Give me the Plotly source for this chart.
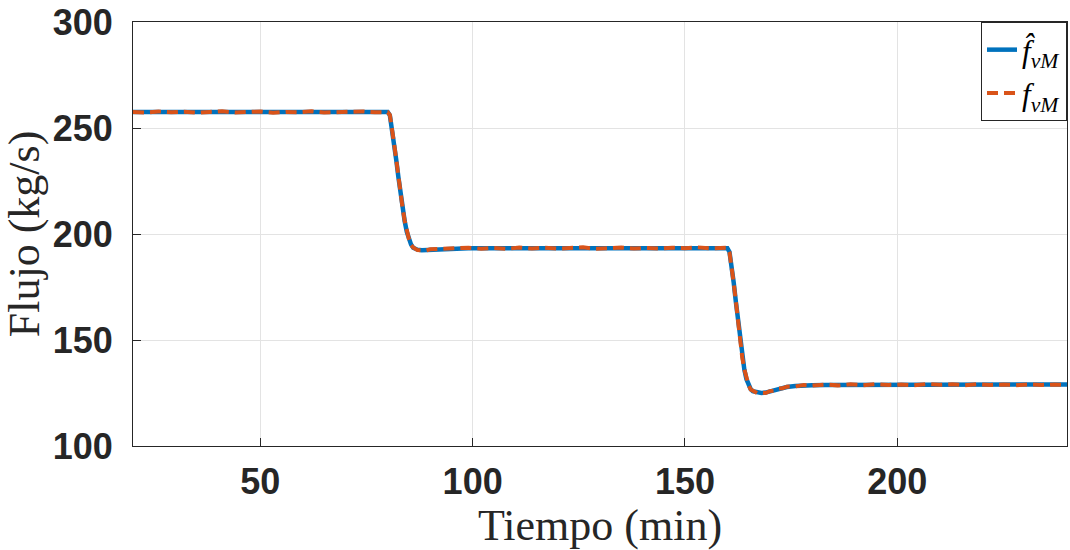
import plotly.graph_objects as go

# Time samples (min), grouped by operating segment
t_high = [20, 23, 26, 29, 32, 35, 38, 41, 44, 47, 50, 53, 56, 59, 62, 65, 68, 71, 74, 77, 79]
t_drop1 = [80, 80.5, 81, 81.5, 82, 82.5, 83, 83.5, 84, 84.5, 85, 85.5, 86, 87, 88, 89, 90, 92, 94, 96]
t_mid = [99, 102, 105, 108, 111, 114, 117, 120, 123, 126, 129, 132, 135, 138, 141, 144, 147, 150, 153, 156, 158, 159]
t_drop2 = [160, 160.5, 161, 161.5, 162, 162.5, 163, 163.5, 164, 164.5, 165, 165.5, 166, 167, 168, 169, 170,
           171, 172, 173, 174, 176, 178, 180]
t_low = [183, 186, 189, 192, 195, 198, 201, 204, 207, 210, 213, 216, 219, 222, 225, 228, 231, 234, 237, 240]

# Estimated flow (kg/s)
est_high = [257.5] * 21
est_drop1 = [257.5, 256.0, 250.0, 243.0, 235.0, 227.0, 219.5, 212.5, 206.0, 201.0, 197.5, 195.0, 193.5,
             192.6, 192.3, 192.4, 192.6, 192.9, 193.1, 193.2]
est_mid = [193.3] * 22
est_drop2 = [193.3, 191.5, 185.0, 177.0, 168.0, 159.0, 150.5, 142.0, 136.0, 131.5, 128.5, 126.8, 125.8,
             125.2, 125.0, 125.2, 125.7, 126.3, 126.9, 127.4, 127.8, 128.3, 128.6, 128.7]
est_low = [128.8, 128.8, 128.8, 128.9, 128.9, 128.9, 128.9, 128.9, 128.9, 129.0, 129.0, 129.0, 129.0,
           129.0, 129.0, 129.0, 129.0, 129.0, 129.0, 129.0]

# Measured flow (kg/s)
meas_high = [257.6, 257.3, 257.8, 257.4, 257.7, 257.2, 257.6, 257.9, 257.3, 257.5, 257.8, 257.2, 257.6,
             257.4, 257.9, 257.3, 257.6, 257.5, 257.8, 257.4, 257.6]
meas_drop1 = [257.4, 256.2, 250.3, 242.6, 235.2, 226.7, 219.8, 212.3, 206.2, 200.8, 197.6, 194.8, 193.6,
              192.4, 192.5, 192.2, 192.8, 193.0, 192.9, 193.4]
meas_mid = [193.5, 193.1, 193.4, 193.0, 193.6, 193.2, 193.5, 193.1, 193.4, 193.7, 193.0, 193.3, 193.6,
            193.2, 193.4, 193.1, 193.5, 193.3, 193.7, 193.2, 193.5, 193.4]
meas_drop2 = [193.5, 191.3, 185.2, 176.8, 168.3, 158.8, 150.7, 141.8, 136.2, 131.3, 128.7, 126.6, 125.9,
              125.0, 125.2, 125.0, 125.9, 126.1, 127.1, 127.2, 128.0, 128.1, 128.8, 128.5]
meas_low = [129.0, 128.6, 129.1, 128.7, 129.2, 128.8, 129.0, 128.6, 129.2, 128.9, 129.1, 128.7, 129.2,
            128.8, 129.0, 128.7, 129.1, 128.8, 129.0, 128.9]

t = t_high + t_drop1 + t_mid + t_drop2 + t_low
est = est_high + est_drop1 + est_mid + est_drop2 + est_low
meas = meas_high + meas_drop1 + meas_mid + meas_drop2 + meas_low

x_ticks = [50, 100, 150, 200]
y_ticks = [100, 150, 200, 250, 300]

fig = go.Figure()
fig.add_trace(go.Scatter(
    x=t, y=est, mode="lines", name="<i>f̂</i><sub><i>vM</i></sub>",
    line=dict(color="#0072BD", width=4.5),
))
fig.add_trace(go.Scatter(
    x=t, y=meas, mode="lines", name="<i>f</i><sub><i>vM</i></sub>",
    line=dict(color="#D95319", width=4, dash="11px,6px"),
))

tick_font = dict(family="Liberation Sans, Arial, sans-serif", size=36, color="#262626", weight="bold")
title_font = dict(family="Liberation Serif, Times New Roman, serif", size=44, color="#262626")

axis_common = dict(
    showline=True, mirror=True, linecolor="#262626", linewidth=1,
    showgrid=True, gridcolor="#e3e3e3", gridwidth=1,
    ticks="inside", ticklen=8, tickcolor="#262626", tickwidth=1,
    tickfont=tick_font, zeroline=False, ticklabeloverflow="allow",
)

fig.update_layout(
    width=1070, height=550,
    margin=dict(l=133, r=2, t=18, b=104),
    paper_bgcolor="white", plot_bgcolor="white",
    showlegend=True,
    legend=dict(
        x=1, y=1, xanchor="right", yanchor="top",
        bgcolor="white", bordercolor="#262626", borderwidth=1,
        font=dict(family="Liberation Serif, Times New Roman, serif", size=31, color="#000000"),
        itemwidth=30, tracegroupgap=0,
    ),
    xaxis=dict(
        range=[20, 240], tickvals=x_ticks, ticklabelstandoff=4,
        title=dict(text="Tiempo (min)", font=title_font, standoff=9),
        **axis_common,
    ),
    yaxis=dict(
        range=[100, 300], tickvals=y_ticks, ticklabelstandoff=12,
        title=dict(text="Flujo (kg/s)", font=title_font, standoff=6),
        **axis_common,
    ),
)

fig.write_html("out.html")
